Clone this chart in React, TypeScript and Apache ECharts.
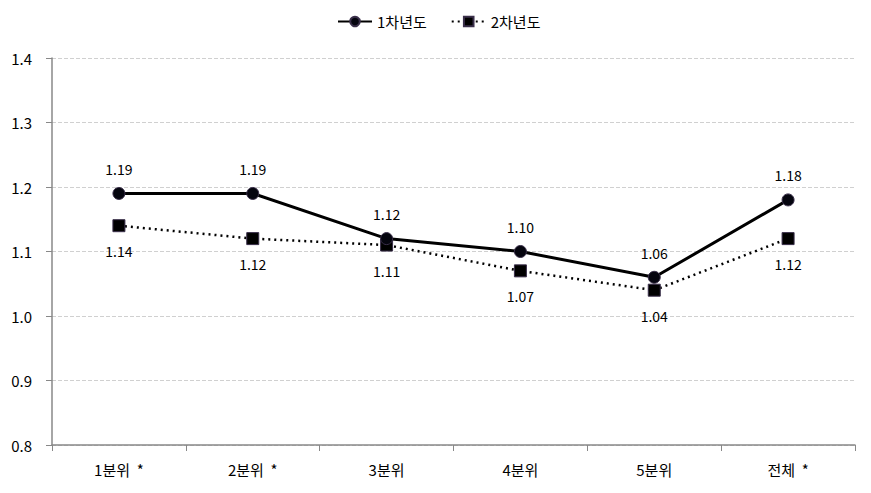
import React, { useEffect, useRef } from "react";
import * as echarts from "echarts";

const categories = ["1분위  *", "2분위  *", "3분위", "4분위", "5분위", "전체  *"];
const year1 = [1.19, 1.19, 1.12, 1.1, 1.06, 1.18];
const year2 = [1.14, 1.12, 1.11, 1.07, 1.04, 1.12];
const seriesNames = ["1차년도", "2차년도"];

const FONT = "'Noto Sans CJK KR', 'Noto Sans', sans-serif";

export default function App() {
  const ref = useRef<HTMLDivElement>(null);
  useEffect(() => {
    if (!ref.current) return;
    const chart = echarts.init(ref.current, undefined, { renderer: "svg" });
    chart.setOption({
      animation: false,
      textStyle: { fontFamily: FONT },
      legend: {
        top: 9,
        left: 332,
        itemWidth: 34,
        itemHeight: 12,
        itemGap: 24,
        textStyle: { fontSize: 15, color: "#000", fontFamily: FONT },
        data: seriesNames,
      },
      grid: { left: 52, right: 16, top: 58, bottom: 48 },
      xAxis: {
        type: "category",
        data: categories,
        boundaryGap: true,
        axisLine: { lineStyle: { color: "#888", width: 1.5 } },
        axisTick: { show: true, length: 6, lineStyle: { color: "#888" } },
        axisLabel: { color: "#000", fontSize: 15, margin: 17, fontFamily: FONT },
      },
      yAxis: {
        type: "value",
        min: 0.8,
        max: 1.4,
        interval: 0.1,
        axisLine: { show: true, lineStyle: { color: "#888", width: 1.5 } },
        axisTick: { show: true, length: 6, lineStyle: { color: "#888" } },
        axisLabel: {
          color: "#000",
          fontSize: 15,
          margin: 20,
          fontFamily: FONT,
          formatter: (v: number) => v.toFixed(1),
        },
        splitLine: { lineStyle: { color: "#d0d0d0", type: "dashed" } },
      },
      series: [
        {
          name: seriesNames[0],
          type: "line",
          data: year1,
          symbol: "circle",
          symbolSize: 12,
          lineStyle: { color: "#000", width: 3, type: "solid" },
          itemStyle: { color: "#05050f", borderColor: "#3a2f4a", borderWidth: 1 },
          label: {
            show: true,
            position: "top",
            distance: 11,
            fontSize: 14,
            color: "#000",
            fontFamily: FONT,
            formatter: (p: any) => p.value.toFixed(2),
          },
          z: 3,
        },
        {
          name: seriesNames[1],
          type: "line",
          data: year2,
          symbol: "rect",
          symbolSize: 12,
          lineStyle: { color: "#000", width: 2.5, type: [2, 4] },
          itemStyle: { color: "#000", borderColor: "#3a2f4a", borderWidth: 1 },
          label: {
            show: true,
            position: "bottom",
            distance: 12,
            fontSize: 14,
            color: "#000",
            fontFamily: FONT,
            formatter: (p: any) => p.value.toFixed(2),
          },
          z: 2,
        },
      ],
    });
    return () => chart.dispose();
  }, []);
  return (
    <div
      ref={ref}
      style={{ position: "absolute", left: 0, top: 0, width: 871, height: 493 }}
    />
  );
}
